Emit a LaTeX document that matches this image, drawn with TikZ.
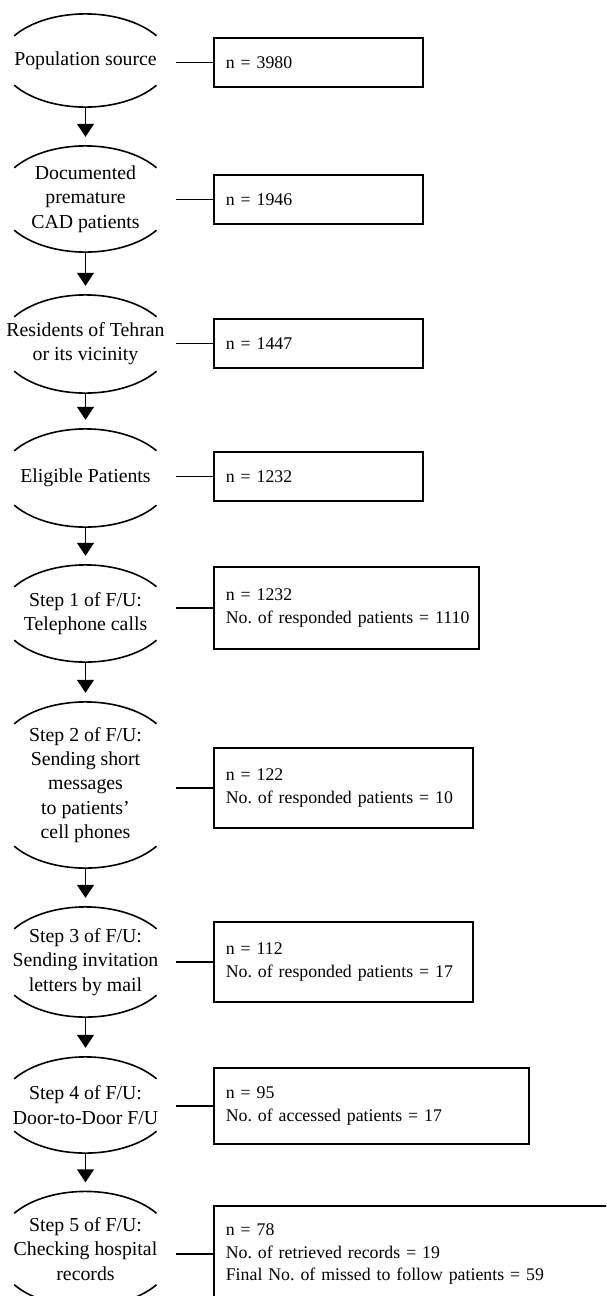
\documentclass[tikz,border=0pt]{standalone}
\usepackage{fontspec}
\setmainfont{Liberation Serif}
\usetikzlibrary{arrows.meta}
\frenchspacing
\tikzset{
  stage/.style={inner sep=0pt, minimum width=181pt, align=center, font=\frenchspacing\fontsize{19.8}{24.3}\selectfont},
  countbox/.style={draw, line width=1.7pt, anchor=west, inner xsep=12pt, inner ysep=0pt, align=left, font=\frenchspacing\fontsize{17.8}{22.5}\selectfont},
  arc line/.style={line width=1.6pt},
  link/.style={line width=1.5pt},
  flow/.style={line width=1.5pt, -{Triangle[width=17pt,length=13pt]}, shorten >=9pt}
}
\newcommand{\stagearcs}[1]{%
  \draw[arc line] ([shift={(71,-22)}]#1.north) arc[start angle=34.2, end angle=145.8, x radius=86, y radius=50];
  \draw[arc line] ([shift={(71,22)}]#1.south) arc[start angle=-34.2, end angle=-145.8, x radius=86, y radius=50];
}
\begin{document}
\begin{tikzpicture}[x=1pt,y=1pt]
\useasboundingbox (0,0) rectangle (606,-1296);
\clip (0,0) rectangle (606,-1296);
% stages
\node[stage, minimum height=93pt]  (s1) at (85.5,-60.5) {Population source};
\node[stage, minimum height=106pt] (s2) at (85.5,-199) {Documented\\premature\\CAD patients};
\node[stage, minimum height=98pt]  (s3) at (85.5,-344) {Residents of Tehran\\or its vicinity};
\node[stage, minimum height=98pt]  (s4) at (85.5,-478) {Eligible Patients};
\node[stage, minimum height=97pt]  (s5) at (85.5,-613.5) {Step 1 of F/U:\\Telephone calls};
\node[stage, minimum height=166pt] (s6) at (85.5,-785) {Step 2 of F/U:\\Sending short\\messages\\to patients'\\cell phones};
\node[stage, minimum height=110pt] (s7) at (85.5,-962) {Step 3 of F/U:\\Sending invitation\\letters by mail};
\node[stage, minimum height=96pt]  (s8) at (85.5,-1105) {Step 4 of F/U:\\Door-to-Door F/U};
\node[stage, minimum height=115pt] (s9) at (85.5,-1249) {Step 5 of F/U:\\Checking hospital\\records};
\foreach \s in {s1,s2,s3,s4,s5,s6,s7,s8,s9} {\stagearcs{\s}}
% boxes
\node[countbox, text width=185pt, minimum height=49pt] (b1) at (213,-62.5) {n = 3980};
\node[countbox, text width=185pt, minimum height=49pt] (b2) at (213,-199.5) {n = 1946};
\node[countbox, text width=185pt, minimum height=49pt] (b3) at (213,-343.5) {n = 1447};
\node[countbox, text width=185pt, minimum height=49pt] (b4) at (213,-476.5) {n = 1232};
\node[countbox, text width=241pt, minimum height=82pt] (b5) at (213,-608) {\mbox{n = 1232}\\\mbox{No. of responded patients = 1110}};
\node[countbox, text width=235pt, minimum height=80pt] (b6) at (213,-788) {\mbox{n = 122}\\\mbox{No. of responded patients = 10}};
\node[countbox, text width=235pt, minimum height=80pt] (b7) at (213,-962) {\mbox{n = 112}\\\mbox{No. of responded patients = 17}};
\node[countbox, text width=291pt, minimum height=76pt] (b8) at (213,-1106) {\mbox{n = 95}\\\mbox{No. of accessed patients = 17}};
\node[countbox, text width=383pt, minimum height=96pt] (b9) at (213,-1254) {\mbox{n = 78}\\\mbox{No. of retrieved records = 19}\\\mbox{Final No. of missed to follow patients = 59}};
% links
\foreach \i in {1,...,9} {\draw[link] (b\i.west) -- (b\i.west -| s\i.east);}
% flow arrows
\foreach \i/\j in {1/2,2/3,3/4,4/5,5/6,6/7,7/8,8/9} {\draw[flow] (s\i.south) -- (s\j.north);}
\end{tikzpicture}
\end{document}
